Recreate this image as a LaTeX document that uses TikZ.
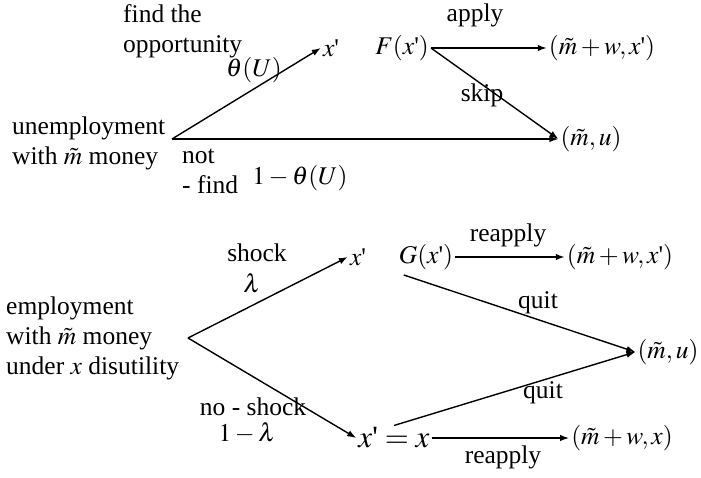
\documentclass[tikz,border=0pt]{standalone}
\usepackage{mathptmx}
\usepackage{fontspec}
\setmainfont{Liberation Serif}
\usetikzlibrary{arrows.meta,calc}
\newcommand\pr{\textnormal{\textquotesingle}}
\begin{document}
\begin{tikzpicture}[x=1pt,y=-1pt,
  every node/.style={font=\fontsize{25.5}{30}\selectfont, inner sep=0pt},
  tgt/.style={inner sep=2pt},
  arr/.style={-{Latex[length=9pt,width=6.5pt]}, line width=1.4pt},
  multi/.style={align=left, anchor=west}]
\useasboundingbox (0,0) rectangle (701,478);
% ---------- top tree ----------
\node[multi] (find) at (123,31) {find the\\opportunity};
\node[multi] (unemp) at (12,143) {unemployment\\with $\tilde m$ money};
\coordinate (U) at (172,139);
\node[tgt] (xp1) at (331,48) {$x\pr$};
\node[tgt] (F) at (402,48) {$F(x\pr)$};
\node[tgt] (A1) at (602,48) {$(\tilde m+w,x\pr)$};
\node[tgt] (Mu1) at (591,139) {$(\tilde m,u)$};
\draw[arr] (U) -- (xp1.west);
\draw[arr] (U) -- (Mu1.west);
\draw[arr] (F.east) -- (A1.west);
\draw[arr] (F.east) -- (Mu1.west);
\node (apply) at (475,15) {apply};
\node (skip) at (482,95) {skip};
\node (th) at (254,70) {$\theta(U)$};
\node[multi] (notf) at (182,171) {not\\- find};
\node (omt) at (300,178) {$1-\theta(U)$};
% ---------- bottom tree ----------
\node[multi] (emp) at (6,338) {employment\\with $\tilde m$ money\\under $x$ disutility};
\coordinate (E) at (188,338);
\node[tgt] (xp2) at (358,257) {$x\pr$};
\node[tgt] (G) at (426,257) {$G(x\pr)$};
\node[tgt] (A2) at (620,257) {$(\tilde m+w,x\pr)$};
\node[tgt] (Mu2) at (668,352) {$(\tilde m,u)$};
\node[tgt, font=\fontsize{31}{36}\selectfont] (X) at (394,438) {$x\pr=x$};
\node[tgt] (A3) at (622,438) {$(\tilde m+w,x)$};
\draw[arr] (E) -- (xp2.west);
\draw[arr] (E) -- (X.west);
\draw[arr] (G.east) -- (A2.west);
\draw[arr] ($(G.south west)+(7,3)$) -- (Mu2.west);
\draw[arr] (X.north) -- (Mu2.west);
\draw[arr] (X.east) -- (A3.west);
\node (re1) at (508,235) {reapply};
\node (q1) at (538,303) {quit};
\node (q2) at (543,393) {quit};
\node (re2) at (503,457) {reapply};
\node (shock) at (257,253) {shock};
\node (lam) at (252,283) {$\lambda$};
\node (nos) at (253,407) {no - shock};
\node (oml) at (247,433) {$1-\lambda$};
\end{tikzpicture}
\end{document}
